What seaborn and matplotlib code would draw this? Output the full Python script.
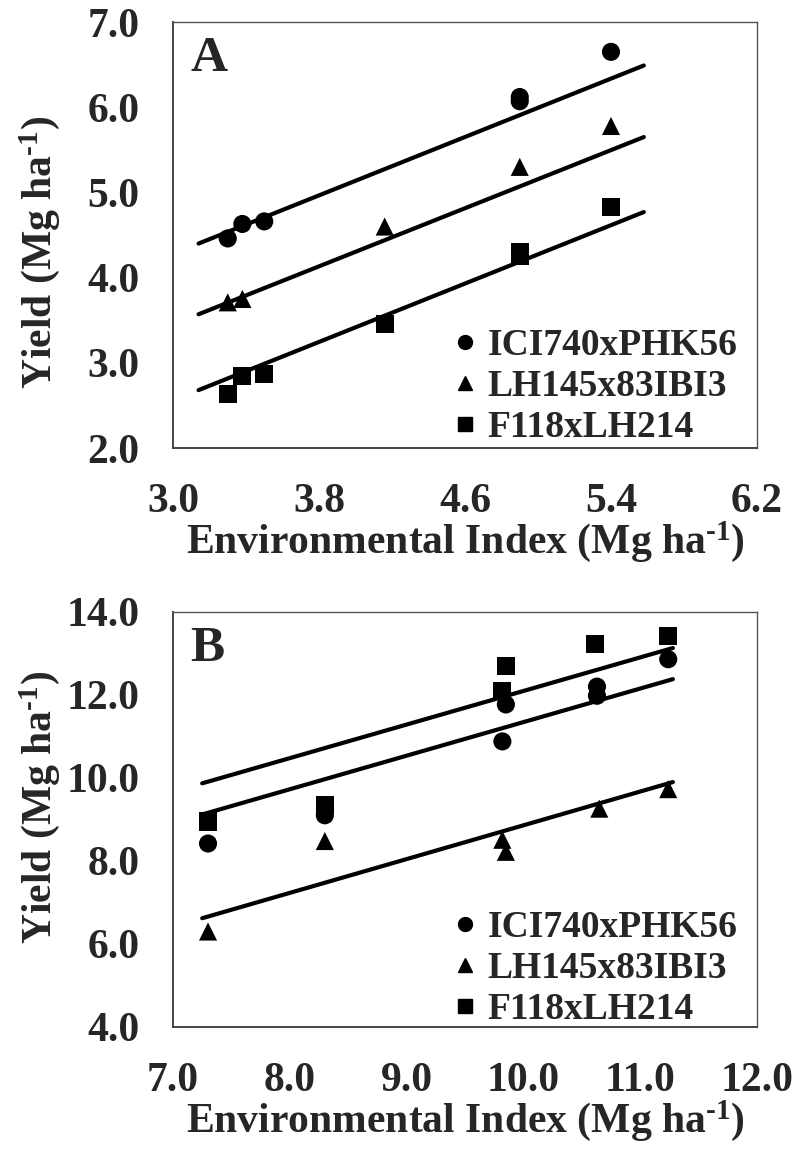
import numpy as np
import pandas as pd
import seaborn as sns
import matplotlib.pyplot as plt
from matplotlib.lines import Line2D

# -----------------------------------------------------------------------------
# DATOS
# -----------------------------------------------------------------------------
HYBRIDS = ["ICI740xPHK56", "LH145x83IBI3", "F118xLH214"]
MARKERS = {"ICI740xPHK56": "o", "LH145x83IBI3": "^", "F118xLH214": "s"}

# Panel A
A_ici_x = [3.30, 3.38, 3.50, 4.90, 4.90, 5.40]
A_ici_y = [4.46, 4.63, 4.66, 6.12, 6.07, 6.65]
A_lh_x = [3.30, 3.38, 4.16, 4.90, 5.40]
A_lh_y = [3.71, 3.75, 4.60, 5.30, 5.78]
A_f_x = [3.30, 3.38, 3.50, 4.16, 4.90, 4.90, 5.40]
A_f_y = [2.63, 2.85, 2.87, 3.46, 4.30, 4.25, 4.83]

# líneas de tendencia panel A (extremos)
A_fit_x = [3.14, 5.58]
A_fit_ici = [4.40, 6.49]
A_fit_lh = [3.57, 5.65]
A_fit_f = [2.68, 4.77]

# Panel B
B_ici_x = [7.30, 8.30, 9.82, 9.85, 10.63, 10.63, 11.24]
B_ici_y = [8.42, 9.10, 10.88, 11.77, 12.20, 11.98, 12.86]
B_lh_x = [7.30, 8.30, 9.82, 9.85, 10.65, 11.24]
B_lh_y = [6.30, 8.48, 8.51, 8.22, 9.26, 9.73]
B_f_x = [7.30, 8.30, 9.82, 9.85, 10.61, 11.24]
B_f_y = [8.95, 9.35, 12.09, 12.69, 13.23, 13.42]

B_fit_x = [7.25, 11.28]
B_fit_ici = [9.12, 12.38]
B_fit_lh = [6.62, 9.90]
B_fit_f = [9.87, 13.13]

A_xticks = [3.0, 3.8, 4.6, 5.4, 6.2]
A_yticks = [2.0, 3.0, 4.0, 5.0, 6.0, 7.0]
B_xticks = [7.0, 8.0, 9.0, 10.0, 11.0, 12.0]
B_yticks = [4.0, 6.0, 8.0, 10.0, 12.0, 14.0]

# -----------------------------------------------------------------------------
# ESTILO
# -----------------------------------------------------------------------------
sns.set_theme(style="white")
plt.rcParams["font.family"] = ["Liberation Serif", "DejaVu Serif"]
plt.rcParams["font.weight"] = "bold"
plt.rcParams["axes.labelweight"] = "bold"
plt.rcParams["mathtext.fontset"] = "custom"
plt.rcParams["mathtext.rm"] = "Liberation Serif:bold"
plt.rcParams["mathtext.bf"] = "Liberation Serif:bold"
plt.rcParams["mathtext.it"] = "Liberation Serif:bold"
plt.rcParams["mathtext.default"] = "rm"

FONT_TICK = 30
FONT_LABEL = 30
FONT_LEG = 27
FONT_LETTER = 37

UNIT = "(Mg ha$^{\\text{-1}}$)"


def make_df(xs, ys):
    rows = []
    for h, x, y in zip(HYBRIDS, xs, ys):
        for xi, yi in zip(x, y):
            rows.append({"env": xi, "yield": yi, "hybrid": h})
    return pd.DataFrame(rows)


def make_fit(fit_x, fits):
    rows = []
    for h, f in zip(HYBRIDS, fits):
        for xi, yi in zip(fit_x, f):
            rows.append({"env": xi, "yield": yi, "hybrid": h})
    return pd.DataFrame(rows)


def draw_panel(ax, df, fit, xticks, yticks, letter, ylab_y, h_px, leg_y):
    sns.lineplot(data=fit, x="env", y="yield", units="hybrid", estimator=None,
                 color="black", lw=3.0, ax=ax, legend=False)
    sns.scatterplot(data=df, x="env", y="yield", style="hybrid", markers=MARKERS,
                    style_order=HYBRIDS, color="black", s=170, edgecolor="none",
                    ax=ax, legend=False, zorder=3)

    ax.set_xlim(xticks[0], xticks[-1])
    ax.set_ylim(yticks[0], yticks[-1])
    ax.set_xticks(xticks)
    ax.set_yticks(yticks)
    ax.set_xticklabels(["%.1f" % t for t in xticks], fontsize=FONT_TICK, fontweight="bold")
    ax.set_yticklabels(["%.1f" % t for t in yticks], fontsize=FONT_TICK, fontweight="bold")
    ax.tick_params(axis="both", direction="inout", length=14, width=1.2,
                   color="#333333")
    ax.tick_params(axis="x", pad=18)
    ax.tick_params(axis="y", pad=17)

    for side in ["top", "right"]:
        ax.spines[side].set_color("#555555")
        ax.spines[side].set_linewidth(1.0)
    for side in ["left", "bottom"]:
        ax.spines[side].set_color("#444444")
        ax.spines[side].set_linewidth(1.4)

    ax.set_xlabel("Environmental Index " + UNIT, fontsize=FONT_LABEL, fontweight="bold")
    ax.set_ylabel("Yield " + UNIT, fontsize=FONT_LABEL, fontweight="bold")
    ax.xaxis.set_label_coords(0.5, -71.0 / h_px)
    ax.yaxis.set_label_coords(-0.19, ylab_y)

    ax.text(0.03, 0.967, letter, transform=ax.transAxes, fontsize=FONT_LETTER,
            fontweight="bold", ha="left", va="top")

    handles = [Line2D([], [], ls="none", marker=MARKERS[h], color="black",
                      markersize=10) for h in HYBRIDS]
    ax.legend(handles, HYBRIDS, loc="lower right", frameon=False,
              prop={"size": FONT_LEG, "weight": "bold"}, handlelength=0.6,
              handletextpad=0.3, labelspacing=0.16, borderpad=0.0,
              borderaxespad=0.0, bbox_to_anchor=(0.967, leg_y))


def main():
    fig = plt.figure(figsize=(7.95, 11.53), dpi=100)
    ax_a = fig.add_axes([0.2176, 0.6114, 0.7346, 0.3695])
    ax_b = fig.add_axes([0.2176, 0.1093, 0.7346, 0.3600])

    df_a = make_df([A_ici_x, A_lh_x, A_f_x], [A_ici_y, A_lh_y, A_f_y])
    fit_a = make_fit(A_fit_x, [A_fit_ici, A_fit_lh, A_fit_f])
    df_b = make_df([B_ici_x, B_lh_x, B_f_x], [B_ici_y, B_lh_y, B_f_y])
    fit_b = make_fit(B_fit_x, [B_fit_ici, B_fit_lh, B_fit_f])

    draw_panel(ax_a, df_a, fit_a, A_xticks, A_yticks, "A", 0.458, 426.0, 0.008)
    draw_panel(ax_b, df_b, fit_b, B_xticks, B_yticks, "B", 0.528, 415.0, 0.0)

    fig.savefig("out.png", dpi=100, facecolor="white")
    plt.close(fig)


if __name__ == "__main__":
    main()
